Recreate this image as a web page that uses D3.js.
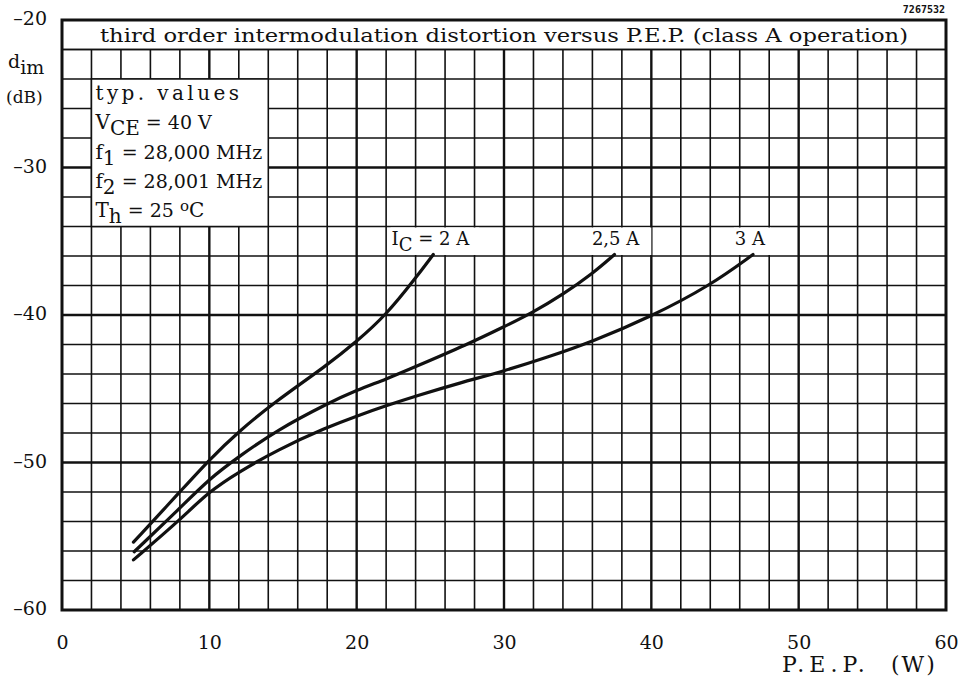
<!DOCTYPE html>
<html>
<head>
<meta charset="utf-8">
<script src="https://cdn.jsdelivr.net/npm/d3@7"></script>
<style>
  body { margin: 0; background: #fff; }
  text { font-family: "DejaVu Serif", "Liberation Serif", serif; fill: #111; }
</style>
</head>
<body>
<svg id="svg1" width="967" height="681"></svg>
<script>
const titleText = 'third order intermodulation distortion versus P.E.P. (class A operation)';

// tick labels
const xTicks = [0, 10, 20, 30, 40, 50, 60];
const yTicks = [-20, -30, -40, -50, -60];

// curves
const ic2X = [4.85, 8, 10, 12, 14.3, 18, 20, 22, 24, 25.2];
const ic2Y = [-55.4, -52.0, -49.8, -47.9, -46.0, -43.4, -41.8, -40.0, -37.5, -35.9];

const ic25X = [4.9, 8, 10, 12, 14.6, 18, 20, 22, 24, 27.5, 30, 32, 34, 36, 37.5];
const ic25Y = [-56.05, -53.1, -51.1, -49.6, -47.8, -46.0, -45.1, -44.35, -43.5, -42.0, -40.8, -39.8, -38.6, -37.2, -35.9];

const ic3X = [4.85, 8, 10, 12, 14.6, 18, 20, 22, 24, 27, 30, 33, 36, 40, 44, 46.9];
const ic3Y = [-56.6, -53.9, -51.95, -50.65, -49.15, -47.6, -46.85, -46.15, -45.5, -44.6, -43.8, -42.85, -41.8, -40.1, -38.0, -35.9];

const svg = d3.select('#svg1');
const margin = { top: 20, right: 21, bottom: 71, left: 62 };
const width = +svg.attr('width');
const height = +svg.attr('height');
const innerWidth = width - margin.left - margin.right;
const innerHeight = height - margin.top - margin.bottom;

const xScale = d3.scaleLinear().domain([0, 60]).range([0, innerWidth]);
const yScale = d3.scaleLinear().domain([-60, -20]).range([innerHeight, 0]);

const g = svg.append('g')
  .attr('transform', `translate(${margin.left},${margin.top})`);

// grid, every 2 units; heavier every 10
const gridX = d3.range(2, 60, 2);
const gridY = d3.range(-58, -20, 2);

g.selectAll('.vgrid').data(gridX).enter().append('line')
  .attr('class', 'vgrid')
  .attr('x1', d => xScale(d)).attr('x2', d => xScale(d))
  .attr('y1', yScale(-22)).attr('y2', innerHeight)
  .attr('stroke', '#111')
  .attr('stroke-width', d => d % 10 === 0 ? 2.4 : 1.6);

g.selectAll('.hgrid').data(gridY).enter().append('line')
  .attr('class', 'hgrid')
  .attr('x1', 0).attr('x2', innerWidth)
  .attr('y1', d => yScale(d)).attr('y2', d => yScale(d))
  .attr('stroke', '#111')
  .attr('stroke-width', d => d % 10 === 0 ? 2.4 : 1.6);

// info box (blanks the grid)
g.append('rect')
  .attr('x', xScale(2)).attr('y', yScale(-24))
  .attr('width', xScale(14) - xScale(2))
  .attr('height', yScale(-34) - yScale(-24))
  .attr('fill', '#fff').attr('stroke', '#111').attr('stroke-width', 1.5);

// [text, dy, size]
const infoLines = [
  [['typ.  values', 0, 20]],
  [['V', 0, 20], ['CE', 6, 20], [' = 40 V', -6, 19]],
  [['f', 0, 20], ['1', 6, 20], [' = 28,000 MHz', -6, 19]],
  [['f', 0, 20], ['2', 6, 20], [' = 28,001 MHz', -6, 19]],
  [['T', 0, 20], ['h', 6, 20], [' = 25  ', -6, 19], ['o', -6, 15], ['C', 6, 20]]
];
infoLines.forEach((parts, i) => {
  const t = g.append('text')
    .attr('x', xScale(2) + 4)
    .attr('y', yScale(-24) + 21 + i * 29.3)
    .style('letter-spacing', i === 0 ? '3.4px' : '0px');
  parts.forEach(p => {
    t.append('tspan')
      .attr('dy', p[1])
      .style('font-size', p[2] + 'px')
      .text(p[0]);
  });
});

// curve labels with white backing
const labels = [
  { x: 22.3, w: 6.0, parts: [['I', 0], ['C', 6], [' = 2 A', -6]] },
  { x: 35.9, w: 4.1, parts: [['2,5 A', 0]] },
  { x: 45.6, w: 2.5, parts: [['3 A', 0]] }
];
labels.forEach(l => {
  g.append('rect')
    .attr('x', xScale(l.x)).attr('y', yScale(-34) + 1)
    .attr('width', xScale(l.w)).attr('height', yScale(-36) - yScale(-34) - 2)
    .attr('fill', '#fff');
  const t = g.append('text')
    .attr('x', xScale(l.x) + 1)
    .attr('y', yScale(-35) + 4)
    .style('font-size', '18px');
  l.parts.forEach(p => t.append('tspan').attr('dy', p[1]).text(p[0]));
});

// curves
const curveData = [
  ic2X.map((x, i) => [x, ic2Y[i]]),
  ic25X.map((x, i) => [x, ic25Y[i]]),
  ic3X.map((x, i) => [x, ic3Y[i]])
];
const line = d3.line()
  .x(d => xScale(d[0]))
  .y(d => yScale(d[1]))
  .curve(d3.curveBasis);

g.selectAll('.curve').data(curveData).enter().append('path')
  .attr('class', 'curve')
  .attr('d', line)
  .attr('fill', 'none')
  .attr('stroke', '#111')
  .attr('stroke-width', 3.2)
  .attr('stroke-linecap', 'round');

// title band
g.append('line')
  .attr('x1', 0).attr('x2', innerWidth)
  .attr('y1', yScale(-22)).attr('y2', yScale(-22))
  .attr('stroke', '#111').attr('stroke-width', 1.5);
g.append('text')
  .attr('x', innerWidth / 2).attr('y', yScale(-21) + 7)
  .attr('text-anchor', 'middle')
  .attr('textLength', 808)
  .attr('lengthAdjust', 'spacingAndGlyphs')
  .style('font-size', '19px')
  .text(titleText);

// frame
g.append('rect')
  .attr('width', innerWidth).attr('height', innerHeight)
  .attr('fill', 'none').attr('stroke', '#111').attr('stroke-width', 3);

// axes (labels only)
const xAxisG = g.append('g')
  .attr('transform', `translate(0,${innerHeight + 22})`)
  .call(d3.axisBottom(xScale).tickValues(xTicks).tickSize(0).tickFormat(d3.format('d')));
const yAxisG = g.append('g')
  .attr('transform', 'translate(-12,0)')
  .call(d3.axisLeft(yScale).tickValues(yTicks).tickSize(0)
    .tickFormat(d => '\u2013' + Math.abs(d)));
xAxisG.select('.domain').remove();
yAxisG.select('.domain').remove();
g.selectAll('.tick text')
  .attr('fill', '#111')
  .style('font-family', '"DejaVu Serif", serif')
  .style('font-size', '19px');
yAxisG.selectAll('text').attr('dy', '0.25em');

// axis titles
const yl = svg.append('text').attr('x', 8).attr('y', 68).style('font-size', '19px');
yl.append('tspan').text('d');
yl.append('tspan').attr('dy', 6).text('im');
svg.append('text').attr('x', 6).attr('y', 103).style('font-size', '17px').text('(dB)');

// x-axis title in two pieces, spaced like the original
svg.append('text')
  .attr('x', 782).attr('y', 672)
  .style('font-size', '22px')
  .style('letter-spacing', '5px')
  .text('P.E.P.');
svg.append('text')
  .attr('x', 891).attr('y', 672)
  .style('font-size', '22px')
  .style('letter-spacing', '2px')
  .text('(W)');

svg.append('text')
  .attr('x', 945).attr('y', 13)
  .attr('text-anchor', 'end')
  .style('font-family', '"DejaVu Sans Mono", monospace')
  .style('font-size', '10px').style('font-weight', 'bold')
  .text('7267532');
</script>
</body>
</html>
